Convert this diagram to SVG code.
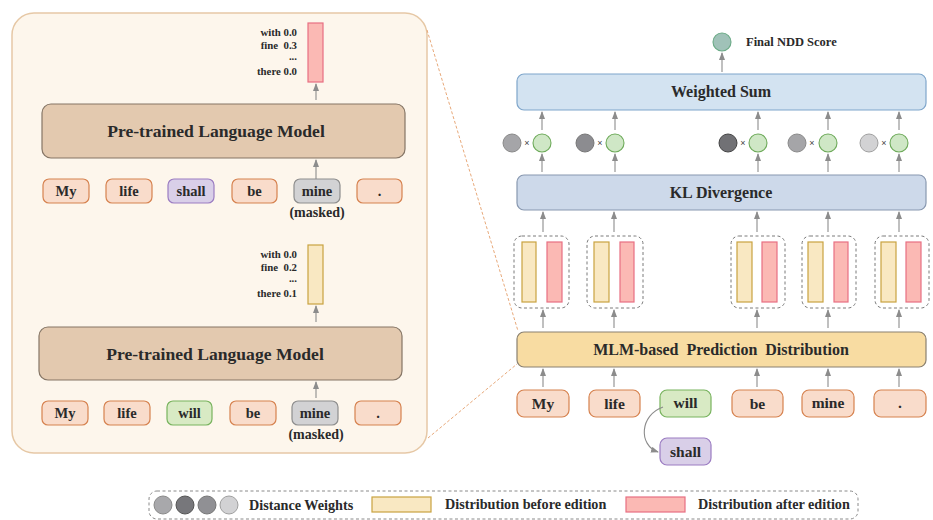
<svg xmlns="http://www.w3.org/2000/svg" width="933" height="520" viewBox="0 0 933 520">
<defs>
<marker id="ah" markerWidth="8" markerHeight="6" refX="7" refY="3" orient="auto" markerUnits="userSpaceOnUse"><path d="M0,0 L8,3 L0,6 z" fill="#8c8c8c"/></marker>
<style>
text{font-family:"Liberation Serif","Times New Roman",serif;font-weight:bold;fill:#2a2a2a}
.tok{fill:#f9dccb;stroke:#d6824f;stroke-width:1.2}
.will{fill:#d8eac4;stroke:#78b35e;stroke-width:1.2}
.shall{fill:#d9cfe8;stroke:#9b7cc2;stroke-width:1.2}
.mask{fill:#d2d2d4;stroke:#8e8e8e;stroke-width:1.2}
.tt{font-size:14.5px;text-anchor:middle}
.tr{font-size:15.5px;text-anchor:middle}
.plm{fill:#e3c9af;stroke:#857565;stroke-width:1.2}
.big{font-size:17.6px;text-anchor:middle}
.prob{font-size:10.8px;text-anchor:end;white-space:pre}
.arr{stroke:#8c8c8c;stroke-width:1.1;fill:none;marker-end:url(#ah)}
.ybar{fill:#f9e8c2;stroke:#c9a240;stroke-width:1.2}
.pbar{fill:#fbb9b4;stroke:#e86f82;stroke-width:1.2}
.grp{fill:none;stroke:#7a7a7a;stroke-width:1;stroke-dasharray:3,2.5}
.gc{fill:#cfe7c6;stroke:#6daa59;stroke-width:1.1}
.x{font-size:9px;text-anchor:middle;font-family:"Liberation Sans",Arial,sans-serif;font-weight:normal;fill:#444}
.leg{font-size:14.2px}
.conn{stroke:#e8a97a;stroke-width:1;stroke-dasharray:3,2;fill:none}
</style>
</defs>

<g id="left-panel">
<rect x="12" y="13" width="415" height="440" rx="22" fill="#fdf6ec" stroke="#e6c8a6" stroke-width="1.5"/>
</g>

<g id="plm-top">
<rect class="plm" x="42" y="104" width="363" height="54" rx="9"/>
<text class="big" x="216" y="137">Pre-trained Language Model</text>
</g>
<g id="dist-top">
<rect class="pbar" x="308" y="23" width="15" height="59"/>
<text class="prob" x="297" y="36">with 0.0</text>
<text class="prob" x="297" y="49" xml:space="preserve">fine  0.3</text>
<text class="prob" x="297" y="60">...</text>
<text class="prob" x="297" y="75">there 0.0</text>
</g>
<g id="tokens-top">
<g id="t1-my"><rect class="tok" x="43" y="179" width="46" height="24" rx="6"/><text class="tt" x="66" y="196">My</text></g>
<g id="t1-life"><rect class="tok" x="106" y="179" width="46" height="24" rx="6"/><text class="tt" x="129" y="196">life</text></g>
<g id="t1-shall"><rect class="shall" x="168" y="179" width="46" height="24" rx="6"/><text class="tt" x="191" y="196">shall</text></g>
<g id="t1-be"><rect class="tok" x="232" y="179" width="45" height="24" rx="6"/><text class="tt" x="254.5" y="196">be</text></g>
<g id="t1-mine"><rect class="mask" x="294" y="179" width="46" height="24" rx="6"/><text class="tt" x="317" y="196">mine</text></g>
<g id="t1-dot"><rect class="tok" x="357" y="179" width="45" height="24" rx="6"/><text class="tt" x="379.5" y="196">.</text></g>
<text class="tt" x="317" y="217" style="font-size:14px">(masked)</text>
</g>

<g id="plm-bottom">
<rect class="plm" x="39" y="327" width="363" height="53" rx="9"/>
<text class="big" x="215" y="360">Pre-trained Language Model</text>
</g>
<g id="dist-bottom">
<rect class="ybar" x="308" y="245" width="15" height="59"/>
<text class="prob" x="297" y="258">with 0.0</text>
<text class="prob" x="297" y="271" xml:space="preserve">fine  0.2</text>
<text class="prob" x="297" y="282">...</text>
<text class="prob" x="297" y="297">there 0.1</text>
</g>
<g id="tokens-bottom">
<g id="t2-my"><rect class="tok" x="42" y="401" width="46" height="24" rx="6"/><text class="tt" x="65" y="418">My</text></g>
<g id="t2-life"><rect class="tok" x="104" y="401" width="46" height="24" rx="6"/><text class="tt" x="127" y="418">life</text></g>
<g id="t2-will"><rect class="will" x="167" y="401" width="45" height="24" rx="6"/><text class="tt" x="189.5" y="418">will</text></g>
<g id="t2-be"><rect class="tok" x="230" y="401" width="46" height="24" rx="6"/><text class="tt" x="253" y="418">be</text></g>
<g id="t2-mine"><rect class="mask" x="292" y="401" width="46" height="24" rx="6"/><text class="tt" x="315" y="418">mine</text></g>
<g id="t2-dot"><rect class="tok" x="355" y="401" width="46" height="24" rx="6"/><text class="tt" x="378" y="418">.</text></g>
<text class="tt" x="316" y="439" style="font-size:14px">(masked)</text>
</g>

<g id="final-score">
<circle cx="722" cy="42" r="9" fill="#a0c2b8" stroke="#6aaa86" stroke-width="1.1"/>
<text x="746" y="46" style="font-size:12.5px">Final NDD Score</text>
</g>
<g id="weighted-sum">
<rect x="517" y="74" width="409" height="36" rx="7" fill="#d3e3f1" stroke="#7fa6cb" stroke-width="1.2"/>
<text x="721" y="97" style="font-size:16px;text-anchor:middle">Weighted Sum</text>
</g>
<g id="weights">
<circle cx="512" cy="143" r="9" fill="#a5a5a8" stroke="#8a8a8a" stroke-width="1"/><text class="x" x="527" y="146">×</text><circle class="gc" cx="542" cy="143" r="9"/>
<circle cx="585" cy="143" r="9" fill="#8c8c90" stroke="#777" stroke-width="1"/><text class="x" x="600" y="146">×</text><circle class="gc" cx="615" cy="143" r="9"/>
<circle cx="728" cy="143" r="9" fill="#717175" stroke="#444" stroke-width="1"/><text class="x" x="743" y="146">×</text><circle class="gc" cx="758" cy="143" r="9"/>
<circle cx="797" cy="143" r="9" fill="#a5a5a8" stroke="#8a8a8a" stroke-width="1"/><text class="x" x="812" y="146">×</text><circle class="gc" cx="828" cy="143" r="9"/>
<circle cx="869" cy="143" r="9" fill="#d2d2d4" stroke="#a0a0a0" stroke-width="1"/><text class="x" x="884" y="146">×</text><circle class="gc" cx="899" cy="143" r="9"/>
</g>
<g id="kl">
<rect x="517" y="175" width="409" height="35" rx="7" fill="#cdd9ea" stroke="#8898b0" stroke-width="1.2"/>
<text x="721" y="198" style="font-size:16px;text-anchor:middle">KL Divergence</text>
</g>
<g id="dists">
<g id="d1"><rect class="grp" x="514" y="236" width="55" height="72" rx="8"/><rect class="ybar" x="522" y="242" width="14" height="60"/><rect class="pbar" x="547" y="242" width="15" height="60"/></g>
<g id="d2"><rect class="grp" x="587" y="236" width="56" height="72" rx="8"/><rect class="ybar" x="594" y="242" width="15" height="60"/><rect class="pbar" x="620" y="242" width="14" height="60"/></g>
<g id="d3"><rect class="grp" x="731" y="236" width="54" height="72" rx="8"/><rect class="ybar" x="737" y="242" width="15" height="60"/><rect class="pbar" x="762" y="242" width="15" height="60"/></g>
<g id="d4"><rect class="grp" x="802" y="236" width="54" height="72" rx="8"/><rect class="ybar" x="808" y="242" width="15" height="60"/><rect class="pbar" x="834" y="242" width="14" height="60"/></g>
<g id="d5"><rect class="grp" x="875" y="236" width="54" height="72" rx="8"/><rect class="ybar" x="881" y="242" width="15" height="60"/><rect class="pbar" x="906" y="242" width="15" height="60"/></g>
</g>
<g id="mlm">
<rect x="517" y="332" width="409" height="35" rx="7" fill="#f8dca2" stroke="#8a8070" stroke-width="1.2"/>
<text x="721" y="355" style="font-size:16px;text-anchor:middle;white-space:pre" xml:space="preserve">MLM-based  Prediction  Distribution</text>
</g>
<g id="tokens-right">
<g id="r-my"><rect class="tok" x="517" y="390" width="52" height="27" rx="7"/><text class="tr" x="543" y="409">My</text></g>
<g id="r-life"><rect class="tok" x="589" y="390" width="51" height="27" rx="7"/><text class="tr" x="614.5" y="409">life</text></g>
<g id="r-will"><rect class="will" x="660" y="390" width="51" height="27" rx="7"/><text class="tr" x="685.5" y="408">will</text></g>
<g id="r-be"><rect class="tok" x="732" y="390" width="51" height="27" rx="7"/><text class="tr" x="757.5" y="409">be</text></g>
<g id="r-mine"><rect class="tok" x="802" y="390" width="52" height="27" rx="7"/><text class="tr" x="828" y="408">mine</text></g>
<g id="r-dot"><rect class="tok" x="874" y="390" width="52" height="27" rx="7"/><text class="tr" x="900" y="408">.</text></g>
<g id="r-shall"><rect class="shall" x="660" y="438" width="51" height="27" rx="7"/><text class="tr" x="685.5" y="457">shall</text></g>
</g>

<g id="connectors">
<path class="arr" d="M316,100 V84"/>
<path class="arr" d="M316,179 V160"/>
<path class="arr" d="M316,322 V306"/>
<path class="arr" d="M316,398 V382"/>
<path class="arr" d="M722,72 V53"/>
<path class="arr" d="M542,130 V112"/><path class="arr" d="M615,130 V112"/><path class="arr" d="M758,130 V112"/><path class="arr" d="M828,130 V112"/><path class="arr" d="M899,130 V112"/>
<path class="arr" d="M542,172 V154"/><path class="arr" d="M615,172 V154"/><path class="arr" d="M758,172 V154"/><path class="arr" d="M828,172 V154"/><path class="arr" d="M899,172 V154"/>
<path class="arr" d="M543,232 V212"/><path class="arr" d="M614,232 V212"/><path class="arr" d="M757,232 V212"/><path class="arr" d="M828,232 V212"/><path class="arr" d="M899,232 V212"/>
<path class="arr" d="M543,328 V310"/><path class="arr" d="M614,328 V310"/><path class="arr" d="M757,328 V310"/><path class="arr" d="M828,328 V310"/><path class="arr" d="M899,328 V310"/>
<path class="arr" d="M543,387 V369"/><path class="arr" d="M614,387 V369"/><path class="arr" d="M757,387 V369"/><path class="arr" d="M828,387 V369"/><path class="arr" d="M899,387 V369"/>
<path class="arr" d="M663,407 C640,415 638,445 658,452"/>
<path class="conn" d="M427,30 L518,331"/>
<path class="conn" d="M428,438 L517,364"/>
</g>

<g id="legend">
<rect x="149" y="491" width="709" height="28" rx="8" fill="none" stroke="#8a8a8a" stroke-width="1" stroke-dasharray="3,2.5"/>
<circle cx="163" cy="505" r="9" fill="#a8a8ab" stroke="#8a8a8a" stroke-width="1"/>
<circle cx="185" cy="505" r="9" fill="#77777b" stroke="#555" stroke-width="1"/>
<circle cx="207" cy="505" r="9" fill="#909094" stroke="#777" stroke-width="1"/>
<circle cx="229" cy="505" r="9" fill="#d2d2d4" stroke="#a0a0a0" stroke-width="1"/>
<text class="leg" x="249" y="510">Distance Weights</text>
<rect class="ybar" x="372" y="497" width="59" height="15"/>
<text class="leg" x="445" y="509">Distribution before edition</text>
<rect class="pbar" x="626" y="497" width="59" height="15"/>
<text class="leg" x="698" y="509">Distribution after edition</text>
</g>
</svg>
